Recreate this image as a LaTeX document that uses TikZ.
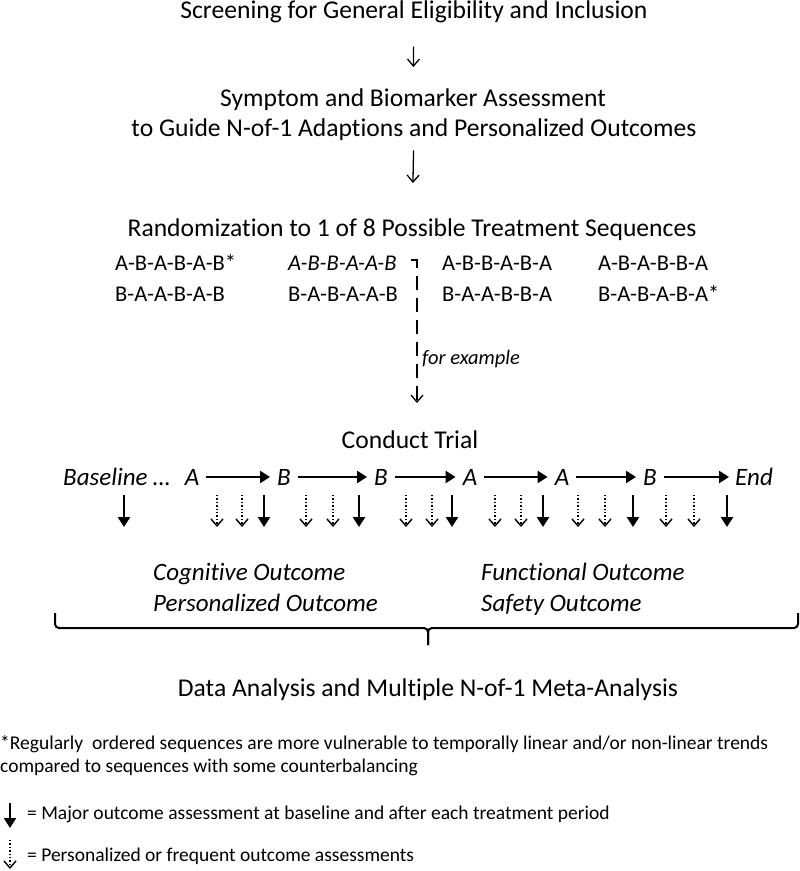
\documentclass[tikz,border=0pt]{standalone}
\usepackage{fontspec}
\setmainfont{Carlito}[Ligatures={TeX,CommonOff}]
\usetikzlibrary{arrows.meta}

\begin{document}
\begin{tikzpicture}[x=1pt,y=-1pt,
    big/.style={font=\fontsize{25.6}{30}\selectfont, anchor=base, inner sep=2pt},
    stage/.style={font=\fontsize{25}{30}\selectfont\itshape, anchor=base, inner xsep=7pt, inner ysep=2pt},
    seq/.style={font=\fontsize{22.5}{27}\selectfont, anchor=base west, inner sep=0pt},
    note/.style={font=\fontsize{19.5}{24}\selectfont, anchor=base west, inner sep=0pt},
    thin/.style={line width=1.3pt, -{Straight Barb[length=7pt,width=12pt]}},
    major/.style={line width=2.4pt, -{Triangle[length=10pt,width=12pt]}},
    minor/.style={line width=1.4pt, dotted, -{Straight Barb[length=7pt,width=12pt]}}]
    \useasboundingbox (0,0) rectangle (800,871);

    % Screening and assessment
    \node[big] (screen) at (414,18) {Screening for General Eligibility and Inclusion};
    \node[big] (assess) at (413,106) {Symptom and Biomarker Assessment};
    \node[big] (guide) at (414,136) {to Guide N-of-1 Adaptions and Personalized Outcomes};
    \node[big] (random) at (412,236) {Randomization to 1 of 8 Possible Treatment Sequences};
    \draw[thin, shorten <=22pt, shorten >=19pt] (screen) -- (assess);
    \draw[thin, shorten <=8pt, shorten >=33pt] (guide) -- (random);

    % the eight sequences
    \node[seq] (s1a) at (115,270) {A-B-A-B-A-B*};
    \node[seq, font=\fontsize{22.5}{27}\selectfont\itshape] (s2a) at (288,270) {A-B-B-A-A-B};
    \node[seq] (s3a) at (442,270) {A-B-B-A-B-A};
    \node[seq] (s4a) at (598,270) {A-B-A-B-B-A};
    \node[seq] (s1b) at (115,301) {B-A-A-B-A-B};
    \node[seq] (s2b) at (288,301) {B-A-B-A-A-B};
    \node[seq] (s3b) at (442,301) {B-A-A-B-B-A};
    \node[seq] (s4b) at (598,301) {B-A-B-A-B-A*};

    \coordinate (turn) at (411,260);
    \coordinate (down) at (417,403);
    \draw[line width=1.3pt, dash pattern=on 14pt off 8pt, -{Straight Barb[length=7pt,width=12pt]}] (turn) -| (down);
    \node[note, font=\fontsize{20.5}{24}\selectfont\itshape] (example) at (422,364) {for example};

    % trial periods
    \node[big] (trial) at (410,448) {Conduct Trial};
    \node[stage, anchor=base west, inner xsep=0pt] (base) at (63,485) {Baseline …};
    \node[stage] (p1) at (192,485) {A};
    \node[stage] (p2) at (284,485) {B};
    \node[stage] (p3) at (381,485) {B};
    \node[stage] (p4) at (470,485) {A};
    \node[stage] (p5) at (562,485) {A};
    \node[stage] (p6) at (650,485) {B};
    \node[stage, anchor=base west, inner xsep=0pt] (end) at (735,485) {End};
    \draw[major] (p1) -- (p2);
    \draw[major] (p2) -- (p3);
    \draw[major] (p3) -- (p4);
    \draw[major] (p4) -- (p5);
    \draw[major] (p5) -- (p6);
    \draw[major, shorten >=6pt] (p6) -- (p6 -| end.west);
    \foreach \x in {124,264,359,452,543,633,727}
        \draw[major] (\x,495) -- (\x,527);
    \foreach \x in {217,242,306,333,406,432,495,521,578,605,666,694}
        \draw[minor] (\x,495) -- (\x,527);

    % outcomes
    \node[stage, anchor=base west, inner sep=0pt] (cog) at (153,580) {Cognitive Outcome};
    \node[stage, anchor=base west, inner sep=0pt] (pers) at (153,611) {Personalized Outcome};
    \node[stage, anchor=base west, inner sep=0pt] (func) at (481,580) {Functional Outcome};
    \node[stage, anchor=base west, inner sep=0pt] (safe) at (481,611) {Safety Outcome};
    \draw[line width=2pt, rounded corners=4pt] (55,613) -- (55,628) -- (428,628) -- (428,645);
    \draw[line width=2pt, rounded corners=4pt] (798,613) -- (798,628) -- (428,628) -- (428,645);
    \node[big] (meta) at (428,696) {Data Analysis and Multiple N-of-1 Meta-Analysis};

    % notes and legend
    \node[note] (fn1) at (0,749) {*Regularly\ \ ordered sequences are more vulnerable to temporally linear and/or non-linear trends};
    \node[note] (fn2) at (0,772) {compared to sequences with some counterbalancing};
    \draw[major, line width=2pt] (10,803) -- (10,828);
    \node[note] (key1) at (27,819) {= Major outcome assessment at baseline and after each treatment period};
    \draw[minor] (10,840) -- (10,869);
    \node[note] (key2) at (27,861) {= Personalized or frequent outcome assessments};
\end{tikzpicture}
\end{document}
